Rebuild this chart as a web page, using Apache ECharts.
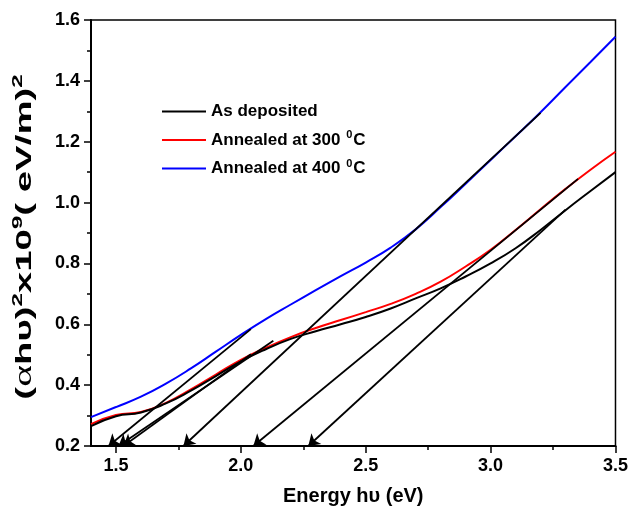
<!DOCTYPE html>
<html>
<head>
<meta charset="utf-8">
<script src="https://cdn.jsdelivr.net/npm/echarts@6/dist/echarts.min.js"></script>
<style>html,body{margin:0;padding:0;background:#fff}#c{width:631px;height:511px}</style>
</head>
<body>
<div id="c"></div>
<script>
// Energy grid (eV)
var energy = [1.4,1.5,1.6,1.7,1.8,1.9,2.0,2.1,2.2,2.3,2.4,2.5,2.6,2.7,2.8,2.9,3.0,3.1,3.2,3.3,3.4,3.5];
// (alpha h nu)^2 x10^9 values
var asDeposited = [0.265,0.298,0.310,0.340,0.382,0.430,0.478,0.518,0.552,0.577,0.600,0.624,0.652,0.685,0.718,0.757,0.800,0.850,0.910,0.975,1.038,1.100];
var annealed300 = [0.272,0.302,0.312,0.342,0.386,0.435,0.483,0.523,0.558,0.588,0.614,0.640,0.667,0.700,0.740,0.790,0.845,0.910,0.978,1.045,1.108,1.167];
var annealed400 = [0.295,0.328,0.362,0.405,0.455,0.510,0.565,0.617,0.665,0.712,0.758,0.803,0.852,0.912,0.985,1.062,1.140,1.218,1.297,1.380,1.462,1.545];
// Tauc extrapolation lines: upper end point and x-intercept (arrow tip)
var tanEndX = [2.04, 2.13, 2.04, 3.20, 3.35, 3.30];
var tanEndY = [0.584, 0.546, 0.502, 1.295, 1.078, 0.977];
var tanTipX = [1.47, 1.51, 1.53, 1.77, 2.05, 2.27];
var tanTipY = [0.2, 0.2, 0.2, 0.2, 0.2, 0.2];
// axis ticks
var xMajorTicks = [1.5, 2.0, 2.5, 3.0, 3.5];
var xMinorTicks = [1.75, 2.25, 2.75, 3.25];
var seriesNames = ['As deposited', 'Annealed at 300 \u00B0C', 'Annealed at 400 \u00B0C'];
var legendRich = ['{t|As deposited}', '{t|Annealed at 300 }{s|0}{t|C}', '{t|Annealed at 400 }{s|0}{t|C}'];
var yTitle = '{p|(}{g|\u03B1}{p|h\u03C5)}{s|2}{p|x10}{s|9}{p|( eV/m)}{s|2}';
var xTitle = 'Energy h\u03C5 (eV)';

function pairs(xs, ys){ return xs.map(function(x,i){ return [x, ys[i]]; }); }
var FONT = 'Arial, "Liberation Sans", sans-serif';

var tangentData = tanEndX.map(function(x,i){
  return { coords: [[x, tanEndY[i]], [tanTipX[i], tanTipY[i]]] };
});

var chart = echarts.init(document.getElementById('c'), null, {renderer:'canvas'});
chart.setOption({
  animation: false,
  backgroundColor: '#fff',
  grid: { left: 91, right: 15, top: 20, bottom: 64, show: true, borderColor: '#000', borderWidth: 1.5, backgroundColor: 'transparent' },
  graphic: [{
    type: 'text', x: 25, y: 237, rotation: Math.PI / 2, scaleX: 1.6, scaleY: 0.95, silent: true,
    style: {
      text: yTitle, align: 'center', verticalAlign: 'middle',
      rich: {
        p: { fontFamily: FONT, fontWeight: 'bold', fontSize: 24, fill: '#000' },
        g: { fontFamily: '"Liberation Serif", serif', fontSize: 26, fill: '#000' },
        s: { fontFamily: FONT, fontWeight: 'bold', fontSize: 15, fill: '#000', padding: [0,0,15,0] }
      }
    }
  }],
  legend: {
    left: 157, top: 98, orient: 'vertical', itemGap: 9.5,
    itemWidth: 44, itemHeight: 2, icon: 'rect',
    data: seriesNames,
    formatter: function(name){ return legendRich[seriesNames.indexOf(name)]; },
    textStyle: {
      rich: {
        t: { fontFamily: FONT, fontWeight: 'bold', fontSize: 17, color: '#000' },
        s: { fontFamily: FONT, fontWeight: 'bold', fontSize: 11, color: '#000', padding: [0,1,10,1] }
      }
    }
  },
  xAxis: [{
    type: 'value', min: 1.4, max: 3.5, position: 'bottom',
    name: xTitle, nameLocation: 'middle', nameGap: 40,
    nameTextStyle: { fontFamily: FONT, fontWeight: 'bold', fontSize: 20, color: '#000' },
    axisLine: { show: true, lineStyle: { color: '#000', width: 2 } },
    axisTick: { show: true, customValues: xMajorTicks, length: 7, lineStyle: { color: '#000', width: 1.5 } },
    axisLabel: { customValues: xMajorTicks, margin: 11, fontFamily: FONT, fontWeight: 'bold', fontSize: 18, color: '#000',
      formatter: function(v){ return v.toFixed(1); } },
    splitLine: { show: false }
  }, {
    type: 'value', min: 1.4, max: 3.5, position: 'bottom', gridIndex: 0,
    axisLine: { show: false },
    axisTick: { show: true, customValues: xMinorTicks, length: 4, lineStyle: { color: '#000', width: 1.5 } },
    axisLabel: { show: false },
    splitLine: { show: false }
  }],
  yAxis: {
    type: 'value', min: 0.2, max: 1.6, interval: 0.2,
    axisLine: { show: true, lineStyle: { color: '#000', width: 2 } },
    axisTick: { show: true, length: 7, lineStyle: { color: '#000', width: 1.5 } },
    minorTick: { show: true, splitNumber: 2, length: 4, lineStyle: { color: '#000', width: 1.5 } },
    axisLabel: { margin: 11, fontFamily: FONT, fontWeight: 'bold', fontSize: 18, color: '#000',
      formatter: function(v){ return v.toFixed(1); } },
    splitLine: { show: false }
  },
  series: [
    { name: seriesNames[0], type: 'line', smooth: 0.5, showSymbol: false, data: pairs(energy, asDeposited),
      lineStyle: { color: '#000', width: 2 }, itemStyle: { color: '#000' }, z: 3 },
    { name: seriesNames[1], type: 'line', smooth: 0.5, showSymbol: false, data: pairs(energy, annealed300),
      lineStyle: { color: '#ff0000', width: 2 }, itemStyle: { color: '#ff0000' }, z: 2 },
    { name: seriesNames[2], type: 'line', smooth: 0.5, showSymbol: false, data: pairs(energy, annealed400),
      lineStyle: { color: '#0000ff', width: 2 }, itemStyle: { color: '#0000ff' }, z: 2 },
    { type: 'lines', coordinateSystem: 'cartesian2d', xAxisIndex: 0, yAxisIndex: 0,
      symbol: ['none', 'arrow'], symbolSize: [7, 11], silent: true,
      lineStyle: { color: '#000', width: 1.8, opacity: 1 }, itemStyle: { color: '#000' },
      data: tangentData, z: 5 }
  ]
});
</script>
</body>
</html>
